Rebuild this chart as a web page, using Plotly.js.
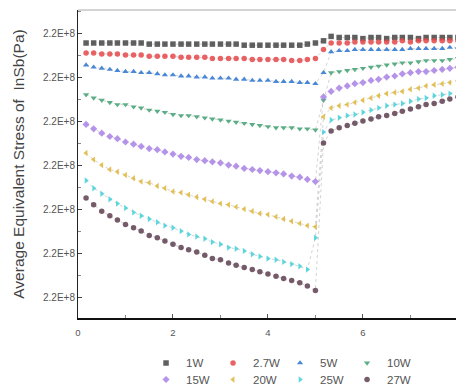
<!DOCTYPE html>
<html>
<head>
<meta charset="utf-8">
<script src="https://cdn.plot.ly/plotly-3.0.1.min.js"></script>
<style>html,body{margin:0;padding:0;background:#fff;}#chart{width:456px;height:392px;}</style>
</head>
<body>
<div id="chart"></div>
<script>
// time (s)
var time = [0.17,0.33,0.50,0.67,0.83,1.00,1.17,1.33,1.50,1.67,1.83,2.00,2.17,2.33,2.50,2.67,2.83,3.00,3.17,3.33,3.50,3.67,3.83,4.00,4.17,4.33,4.50,4.67,4.83,5.00,
            5.17,
            5.33,5.50,5.67,5.83,6.00,6.17,6.33,6.50,6.67,6.83,7.00,7.17,7.33,7.50,7.67,7.83,8.00];

// average equivalent stress (MPa)
var s1W = [221.11,221.11,221.11,221.11,221.11,221.11,221.11,221.11,221.10,221.10,221.10,221.10,221.10,221.10,221.10,221.10,221.10,221.10,221.10,221.10,221.09,221.09,221.09,221.09,221.09,221.09,221.09,221.09,221.10,221.11,
           221.13,
           221.17,221.16,221.16,221.16,221.15,221.16,221.16,221.15,221.16,221.16,221.16,221.15,221.16,221.16,221.16,221.16,221.16];
var s2_7W = [221.02,221.02,221.01,221.01,221.01,221.00,221.00,221.00,220.99,220.99,220.99,220.99,220.98,220.98,220.98,220.98,220.97,220.97,220.97,220.97,220.97,220.96,220.96,220.96,220.96,220.96,220.95,220.95,220.96,220.97,
             221.05,
             221.11,221.11,221.11,221.12,221.12,221.12,221.12,221.12,221.12,221.13,221.12,221.13,221.13,221.13,221.13,221.13,221.13];
var s5W = [220.91,220.89,220.88,220.87,220.86,220.85,220.85,220.84,220.84,220.83,220.82,220.82,220.81,220.81,220.80,220.80,220.79,220.79,220.79,220.78,220.78,220.77,220.77,220.77,220.76,220.76,220.76,220.75,220.75,220.74,
           220.84,
           221.03,221.04,221.04,221.05,221.05,221.05,221.05,221.05,221.05,221.05,221.06,221.06,221.06,221.06,221.06,221.07,221.07];
var s10W = [220.64,220.61,220.59,220.57,220.55,220.55,220.53,220.52,220.50,220.49,220.48,220.46,220.45,220.45,220.44,220.43,220.42,220.41,220.40,220.39,220.38,220.37,220.36,220.35,220.34,220.34,220.34,220.33,220.33,220.32,
            220.59,
            220.84,220.85,220.86,220.87,220.88,220.89,220.90,220.91,220.92,220.93,220.93,220.94,220.95,220.95,220.95,220.96,220.97];
var s15W = [220.37,220.33,220.29,220.26,220.24,220.21,220.19,220.17,220.15,220.14,220.12,220.10,220.08,220.07,220.05,220.04,220.03,220.02,220.00,219.99,219.97,219.96,219.95,219.94,219.93,219.92,219.90,219.89,219.87,219.85,
            220.62,
            220.67,220.70,220.72,220.74,220.75,220.77,220.78,220.80,220.81,220.83,220.84,220.85,220.85,220.86,220.87,220.88,220.89];
var s20W = [220.11,220.05,220.00,219.96,219.94,219.91,219.88,219.85,219.84,219.81,219.79,219.76,219.75,219.73,219.71,219.69,219.67,219.65,219.64,219.62,219.60,219.58,219.56,219.55,219.53,219.51,219.49,219.47,219.45,219.44,
            220.44,
            220.52,220.54,220.55,220.57,220.59,220.61,220.63,220.65,220.66,220.67,220.69,220.70,220.72,220.73,220.74,220.75,220.77];
var s25W = [219.86,219.79,219.74,219.69,219.65,219.61,219.57,219.54,219.51,219.48,219.45,219.43,219.40,219.37,219.35,219.33,219.30,219.28,219.25,219.24,219.22,219.19,219.17,219.15,219.14,219.12,219.10,219.08,219.05,219.34,
            220.30,
            220.41,220.43,220.45,220.46,220.48,220.50,220.52,220.54,220.55,220.56,220.58,220.60,220.61,220.63,220.64,220.65,220.67];
var s27W = [219.70,219.64,219.58,219.54,219.50,219.46,219.43,219.40,219.36,219.34,219.31,219.28,219.25,219.23,219.21,219.18,219.15,219.14,219.11,219.09,219.07,219.05,219.03,219.01,218.99,218.97,218.95,218.93,218.90,218.86,
            220.20,
            220.31,220.34,220.36,220.38,220.40,220.42,220.44,220.45,220.47,220.49,220.51,220.53,220.55,220.56,220.58,220.60,220.62];

var seriesNames = ['1W','2.7W','5W','10W','15W','20W','25W','27W'];
var seriesData = [s1W, s2_7W, s5W, s10W, s15W, s20W, s25W, s27W];

var yTickVals = [218.8, 219.2, 219.6, 220.0, 220.4, 220.8, 221.2];
var yTickText = ['2.2E+8','2.2E+8','2.2E+8','2.2E+8','2.2E+8','2.2E+8','2.2E+8'];
var xTickVals = [0, 2, 4, 6];
var xTickText = ['0', '2', '4', '6'];
var xTitle = 'Time (s)';
var yTitle = 'Average Equivalent Stress of  InSb(Pa)';

var colors = ['#444444','#e5484a','#2a74cf','#40a172','#a981e6','#dfb639','#3fd0d8','#5e4050'];
var symbols = ['square','circle','triangle-up','triangle-down','diamond','triangle-left','triangle-right','circle'];

var traces = [];
seriesData.forEach(function(s, i){
  traces.push({
    x: time, y: s, mode: 'lines', showlegend: false, hoverinfo: 'skip',
    line: {color: 'rgba(130,130,130,0.5)', width: 0.7, dash: 'dot'}
  });
});
seriesData.forEach(function(s, i){
  traces.push({
    x: time, y: s, name: seriesNames[i], mode: 'markers',
    legend: i < 4 ? 'legend' : 'legend2',
    marker: {symbol: symbols[i], color: colors[i], size: 5.5, opacity: 0.85, line: {width: 0}}
  });
});

var font = {family: 'Liberation Sans, Arial, sans-serif', size: 9, color: '#555'};
var legendCommon = {
  orientation: 'h', xanchor: 'left', yanchor: 'middle', yref: 'container',
  entrywidth: 22, entrywidthmode: 'pixels',
  font: {family: 'Liberation Sans, Arial, sans-serif', size: 11.5, color: '#555'},
  bgcolor: 'rgba(0,0,0,0)', itemclick: false
};

var layout = {
  width: 456, height: 392,
  margin: {l: 78, r: 0, t: 10, b: 74},
  paper_bgcolor: '#fff', plot_bgcolor: '#fff',
  font: font,
  showlegend: true,
  legend: Object.assign({x: 0.18, y: 0.074}, legendCommon),
  legend2: Object.assign({x: 0.18, y: 0.032}, legendCommon),
  xaxis: {
    range: [0, 7.96], tickmode: 'array', tickvals: xTickVals, ticktext: xTickText,
    ticks: 'inside', ticklen: 4, tickcolor: '#555', ticklabelstandoff: 5,
    minor: {tickmode: 'linear', tick0: 0, dtick: 1, ticks: 'inside', ticklen: 3, tickcolor: '#888'},
    showline: true, linecolor: '#111', linewidth: 2, showgrid: false, zeroline: false,
    tickfont: {size: 9.5, color: '#555'},
    automargin: false
  },
  yaxis: {
    range: [218.61, 221.41], tickmode: 'array', tickvals: yTickVals, ticktext: yTickText,
    ticks: 'inside', ticklen: 4, tickcolor: '#444',
    minor: {tickmode: 'linear', tick0: 218.8, dtick: 0.2, ticks: 'inside', ticklen: 3, tickcolor: '#888'},
    showline: true, linecolor: '#222', linewidth: 1, showgrid: false, zeroline: false,
    tickfont: {size: 10, color: '#555'},
    automargin: true,
    title: {text: yTitle, font: {size: 15.5, color: '#444'}, standoff: 14}
  },
  annotations: [
    {text: xTitle, xref: 'paper', yref: 'container', x: 0.5, y: 0.115, xanchor: 'center', yanchor: 'middle',
     showarrow: false, font: {size: 15, color: '#333'}}
  ],
  shapes: [
    {type: 'line', xref: 'paper', yref: 'paper', x0: 0, x1: 1, y0: 1, y1: 1, line: {color: '#aaa', width: 1}}
  ]
};

Plotly.newPlot('chart', traces, layout, {staticPlot: true, displayModeBar: false});
</script>
</body>
</html>
